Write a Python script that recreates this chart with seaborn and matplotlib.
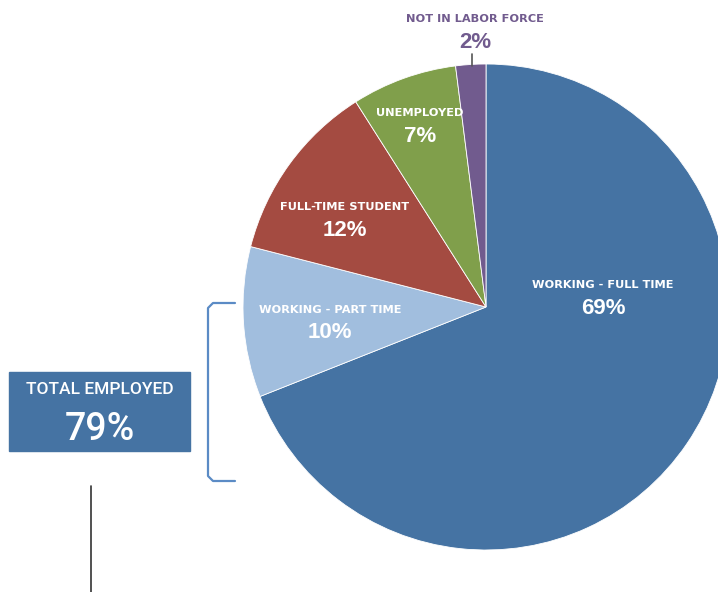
import matplotlib
matplotlib.use("Agg")
import matplotlib.pyplot as plt
import seaborn as sns

labels = ['WORKING - FULL TIME', 'WORKING - PART TIME', 'FULL-TIME STUDENT',
          'UNEMPLOYED', 'NOT IN LABOR FORCE']
shares = [69, 10, 12, 7, 2]
colors = ['#4573A3', '#A1BEDE', '#A44B41', '#809F4B', '#715B8E']
total_label = 'TOTAL EMPLOYED'
total_value = 79

sns.set_theme(style="white")
plt.rcParams['font.family'] = ['Liberation Sans', 'DejaVu Sans']

H = 592
fig = plt.figure(figsize=(7.18, 5.92), dpi=100)
ax = fig.add_axes([0, 0, 1, 1])

ax.pie(shares, colors=colors, startangle=90, counterclock=False,
       center=(486, H - 307), radius=243,
       wedgeprops={'edgecolor': 'white', 'linewidth': 0.6})
ax.set_xlim(0, 718)
ax.set_ylim(0, H)
ax.set_aspect('auto')
ax.axis('off')

# label positions in pixels (x, y of label line)
label_pos = [(603, 285), (330, 310), (345, 207), (420, 113), (475, 19)]
for i, (lab, val, (x, y)) in enumerate(zip(labels, shares, label_pos)):
    c = '#715B8E' if i == 4 else 'white'
    ax.text(x, H - y, lab, ha='center', va='center', color=c,
            fontsize=8.2, fontweight='bold', family=['DejaVu Sans'])
    ax.text(x, H - y - 23, f'{val}%', ha='center', va='center', color=c,
            fontsize=16, fontweight='bold')

# leader line for the small slice
ax.plot([472, 472], [H - 54, H - 66], color='#555555', lw=1.2)

# total employed box
ax.add_patch(plt.Rectangle((9, H - 451), 181, 79, color='#4573A3', zorder=3))
ax.text(100, H - 390, total_label, ha='center', va='center', color='white',
        fontsize=12.5, fontweight='medium', family=['Roboto', 'DejaVu Sans'], zorder=4)
ax.text(100, H - 429, f'{total_value}%', ha='center', va='center', color='white',
        fontsize=27, fontweight='medium', family=['Roboto', 'DejaVu Sans'], zorder=4)

# bracket
bx = [235, 213, 208, 208, 213, 235]
by = [303, 303, 308, 476, 481, 481]
ax.plot(bx, [H - v for v in by], color='#5B8BC5', lw=1.6, solid_joinstyle='round')

# vertical line
ax.plot([91, 91], [H - 486, 0], color='#333333', lw=1.2)

fig.savefig('out.png', dpi=100)
